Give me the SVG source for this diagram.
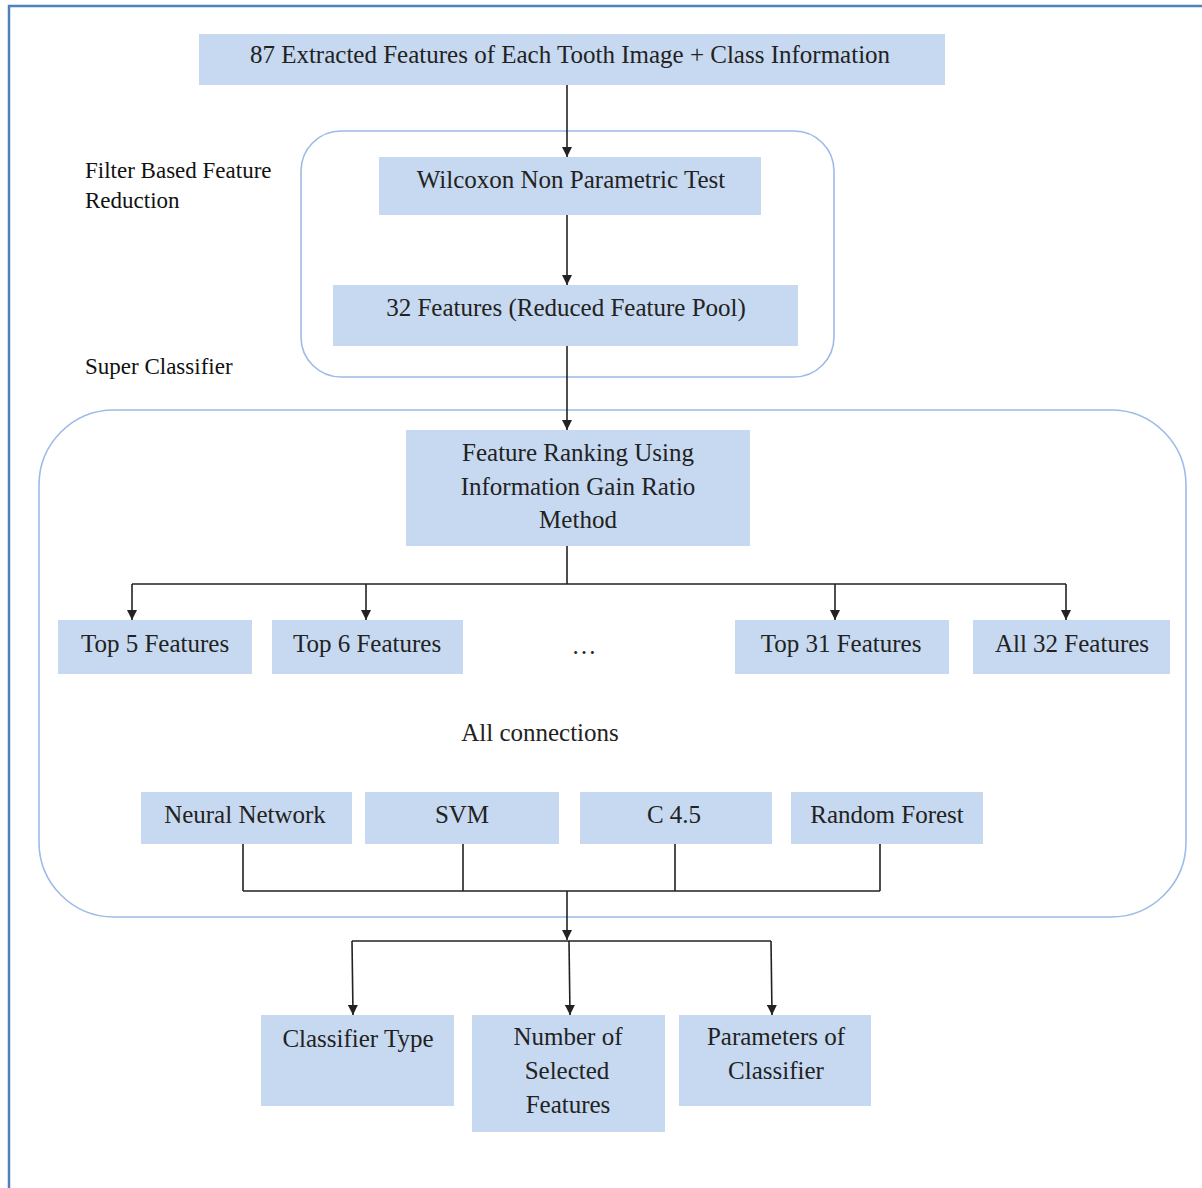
<svg xmlns="http://www.w3.org/2000/svg" width="1202" height="1188" viewBox="0 0 1202 1188">
<style>
.box{fill:#c6d9f0;}
.t{font-family:"Times New Roman",Times,"Liberation Serif","Noto Serif",serif;font-size:25px;fill:#222;text-anchor:middle;}
.l{font-family:"Times New Roman",Times,"Liberation Serif","Noto Serif",serif;font-size:23px;fill:#111;}
.c{fill:none;stroke:#9dbbe6;stroke-width:1.6;}
.e{fill:none;stroke:#222;stroke-width:1.6;}
</style>
<defs>
<marker id="ah" viewBox="0 0 10 10" refX="10" refY="5" markerWidth="10" markerHeight="10" markerUnits="userSpaceOnUse" orient="auto">
<path d="M0,0 L10,5 L0,10 z" fill="#222"/>
</marker>
</defs>
<rect width="1202" height="1188" fill="#fff"/>
<path d="M9,1188 V6 H1202" fill="none" stroke="#4f81bd" stroke-width="2.5"/>
<g id="containers">
<rect class="c" x="301" y="131" width="533" height="246" rx="40"/>
<rect class="c" x="39" y="410" width="1147" height="507" rx="75"/>
</g>
<g id="labels">
<text class="l" x="85" y="178">Filter Based Feature</text>
<text class="l" x="85" y="208">Reduction</text>
<text class="l" x="85" y="374">Super Classifier</text>
<text class="t" x="540" y="741">All connections</text>
<text class="t" x="584" y="654">…</text>
</g>
<g id="connectors">
<line class="e" x1="567" y1="85" x2="567" y2="157" marker-end="url(#ah)"/>
<line class="e" x1="567" y1="215" x2="567" y2="285" marker-end="url(#ah)"/>
<line class="e" x1="567" y1="346" x2="567" y2="430" marker-end="url(#ah)"/>
<path class="e" d="M567,546 V584 M132,584 H1066"/>
<line class="e" x1="132" y1="584" x2="132" y2="620" marker-end="url(#ah)"/>
<line class="e" x1="366" y1="584" x2="366" y2="620" marker-end="url(#ah)"/>
<line class="e" x1="835" y1="584" x2="835" y2="620" marker-end="url(#ah)"/>
<line class="e" x1="1066" y1="584" x2="1066" y2="620" marker-end="url(#ah)"/>
<path class="e" d="M243,844 V891 M463,844 V891 M675,844 V891 M880,844 V891 M243,891 H880"/>
<line class="e" x1="567" y1="891" x2="567" y2="940" marker-end="url(#ah)"/>
<path class="e" d="M352,941 H771"/>
<line class="e" x1="352" y1="941" x2="353" y2="1015" marker-end="url(#ah)"/>
<line class="e" x1="569" y1="941" x2="570" y2="1015" marker-end="url(#ah)"/>
<line class="e" x1="771" y1="941" x2="772" y2="1015" marker-end="url(#ah)"/>
</g>
<g id="n-input"><rect class="box" x="199" y="34" width="746" height="51"/><text class="t" x="570" y="63">87 Extracted Features of Each Tooth Image + Class Information</text></g>
<g id="n-wilcoxon"><rect class="box" x="379" y="157" width="382" height="58"/><text class="t" x="571" y="188">Wilcoxon Non Parametric Test</text></g>
<g id="n-pool"><rect class="box" x="333" y="285" width="465" height="61"/><text class="t" x="566" y="316">32 Features (Reduced Feature Pool)</text></g>
<g id="n-ranking"><rect class="box" x="406" y="430" width="344" height="116"/>
<text class="t" x="578" y="461">Feature Ranking Using</text>
<text class="t" x="578" y="495">Information Gain Ratio</text>
<text class="t" x="578" y="528">Method</text></g>
<g id="n-top5"><rect class="box" x="58" y="620" width="194" height="54"/><text class="t" x="155" y="652">Top 5 Features</text></g>
<g id="n-top6"><rect class="box" x="272" y="620" width="191" height="54"/><text class="t" x="367" y="652">Top 6 Features</text></g>
<g id="n-top31"><rect class="box" x="735" y="620" width="214" height="54"/><text class="t" x="841" y="652">Top 31 Features</text></g>
<g id="n-all32"><rect class="box" x="973" y="620" width="197" height="54"/><text class="t" x="1072" y="652">All 32 Features</text></g>
<g id="n-nn"><rect class="box" x="141" y="792" width="211" height="52"/><text class="t" x="245" y="823">Neural Network</text></g>
<g id="n-svm"><rect class="box" x="365" y="792" width="194" height="52"/><text class="t" x="462" y="823">SVM</text></g>
<g id="n-c45"><rect class="box" x="580" y="792" width="192" height="52"/><text class="t" x="674" y="823">C 4.5</text></g>
<g id="n-rf"><rect class="box" x="791" y="792" width="192" height="52"/><text class="t" x="887" y="823">Random Forest</text></g>
<g id="n-type"><rect class="box" x="261" y="1015" width="193" height="91"/><text class="t" x="358" y="1047">Classifier Type</text></g>
<g id="n-number"><rect class="box" x="472" y="1015" width="193" height="117"/>
<text class="t" x="568" y="1045">Number of</text>
<text class="t" x="567" y="1079">Selected</text>
<text class="t" x="568" y="1113">Features</text></g>
<g id="n-params"><rect class="box" x="679" y="1015" width="192" height="91"/>
<text class="t" x="776" y="1045">Parameters of</text>
<text class="t" x="776" y="1079">Classifier</text></g>
</svg>
